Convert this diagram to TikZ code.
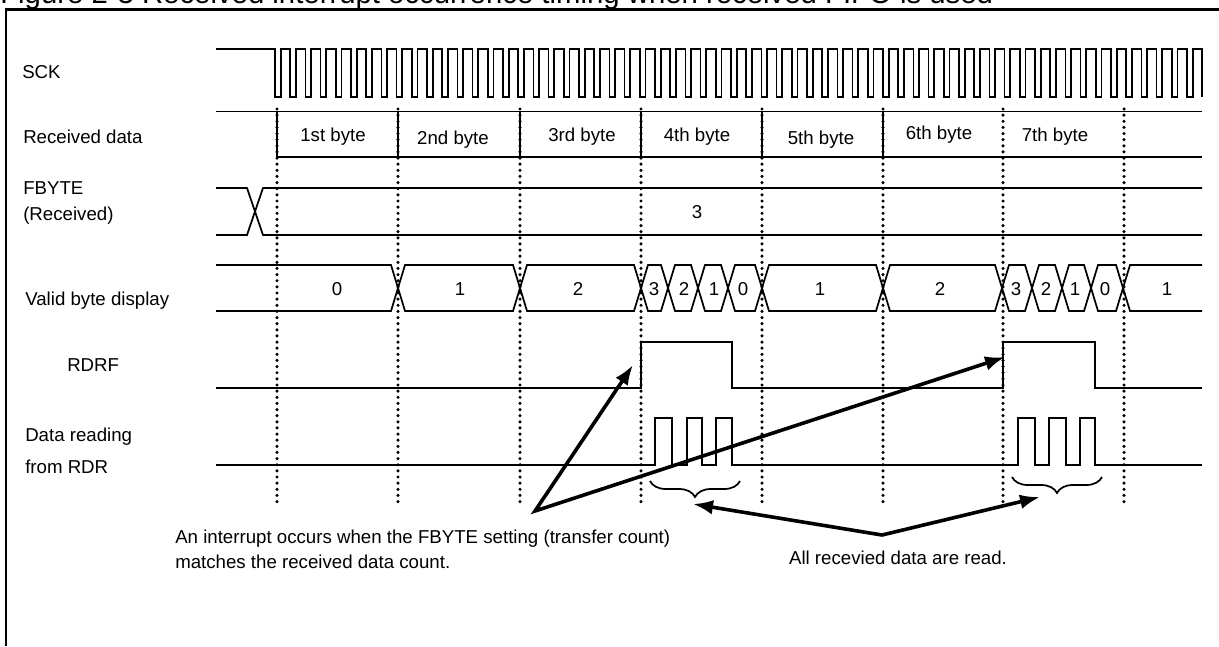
\documentclass[tikz,border=0pt]{standalone}
\usepackage{fontspec}
\setmainfont{Liberation Sans}
\usetikzlibrary{arrows.meta,decorations.pathreplacing}

\begin{document}
\begin{tikzpicture}[x=0.75pt,y=-0.75pt,font=\fontsize{14}{17}\selectfont,>={Latex[length=15pt,width=11pt]}]
  \tikzstyle{sig}=[line width=1.3pt]
  \tikzstyle{dotline}=[line width=2.6pt,line cap=round,dash pattern=on 0pt off 4.6pt]
  \tikzstyle{lbl}=[anchor=west,inner sep=0pt]
  \tikzstyle{pointer}=[line width=2.7pt]
  \tikzstyle{grpbrace}=[sig,decorate,decoration={brace,mirror,amplitude=12pt}]
  \useasboundingbox (0,0) rectangle (1219,646);
  \fill[white] (0,0) rectangle (1219,646);

  % title and frame
  \node[anchor=base west,inner sep=0pt,font=\fontsize{22}{26}\selectfont] (title) at (0,3) {Figure 2-3 Received interrupt occurrence timing when received FIFO is used};
  \draw[line width=1.8pt] (6,646) -- (6,9.5) -- (1219,9.5);

  % signal names
  \node[lbl] (sck) at (22,72) {SCK};
  \node[lbl] (rxdata) at (23,137) {Received data};
  \node[lbl,align=left] (fbyte) at (23,203) {FBYTE\\[3pt](Received)};
  \node[lbl] (valid) at (25,301) {Valid byte display};
  \node[lbl] (rdrf) at (67,365) {RDRF};
  \node[lbl,align=left] (rdr) at (25,451) {Data reading\\[7pt]from RDR};

  % SCK
  \draw[sig] (216,49) -- (275,49) -- (275,97)
    \foreach \i in {1,...,61} { -- ++(5.7,0) -- ++(0,-48) -- ++(9.5,0) -- ++(0,48) };

  % received data
  \draw[sig] (216,111.5) -- (1202,111.5);
  \draw[sig] (277,157) -- (1202,157);
  \foreach \x in {277,398,520,641,762,883}
    \draw[sig] (\x,111.5) -- (\x,157);
  \foreach \x/\y/\t [count=\n] in {333/137/1st byte,453/140/2nd byte,582/137/3rd byte,697/137/4th byte,821/140/5th byte,939/135/6th byte,1055/137/7th byte}
    \node (byte\n) at (\x,\y) {\t};

  % FBYTE
  \draw[sig] (216,188) -- (247,188) -- (263,235) -- (1202,235);
  \draw[sig] (216,235) -- (247,235) -- (263,188) -- (1202,188);
  \node (fbval) at (697,212) {3};

  % valid byte display
  \draw[sig] (216,265) -- (391,265) -- (398,288) -- (391,311) -- (216,311);
  \foreach \a/\b in {398/520,520/641,641/668,668/698,698/728,728/762,762/883,883/1002,1002/1032,1032/1062,1062/1091,1091/1123}
    \draw[sig] (\a,288) -- (\a+7,265) -- (\b-7,265) -- (\b,288) -- (\b-7,311) -- (\a+7,311) -- cycle;
  \draw[sig] (1202,265) -- (1130,265) -- (1123,288) -- (1130,311) -- (1202,311);
  \foreach \x/\t [count=\n] in {337/0,460/1,578/2,654/3,684/2,714/1,743/0,820/1,940/2,1016/3,1046/2,1075/1,1105/0,1167/1}
    \node (cnt\n) at (\x,289) {\t};

  % RDRF
  \draw[sig] (216,388) -- (641,388) -- (641,342) -- (732,342) -- (732,388)
    -- (1003,388) -- (1003,342) -- (1095,342) -- (1095,388) -- (1202,388);

  % data reading from RDR
  \draw[sig] (216,465)
    \foreach \a/\b in {655/672,687/702,716/732,1018/1035,1049/1066,1080/1095} { -- (\a,465) -- (\a,418) -- (\b,418) -- (\b,465) }
    -- (1202,465);

  % byte boundaries
  \foreach \x in {277,398,520,641,762,883,1003,1124}
    \draw[dotline] (\x,109) -- (\x,503);

  % read groups
  \draw[grpbrace] (650,481) -- (740,481);
  \draw[grpbrace] (1012,477) -- (1102,477);

  \coordinate (irq) at (535,511);
  \coordinate (rise1) at (633,365);
  \coordinate (rise2) at (1005,357);
  \coordinate (rd) at (882,535);
  \coordinate (grp1) at (693,504);
  \coordinate (grp2) at (1040,497);
  \draw[pointer,<->] (rise1) -- (irq) -- (rise2);
  \draw[pointer,<->] (grp1) -- (rd) -- (grp2);

  \node[anchor=west,align=left,inner sep=0pt] (irqnote) at (175,549.5) {An interrupt occurs when the FBYTE setting (transfer count)\\[2pt]matches the received data count.};
  \node (readnote) at (898,558) {All recevied data are read.};
\end{tikzpicture}
\end{document}
